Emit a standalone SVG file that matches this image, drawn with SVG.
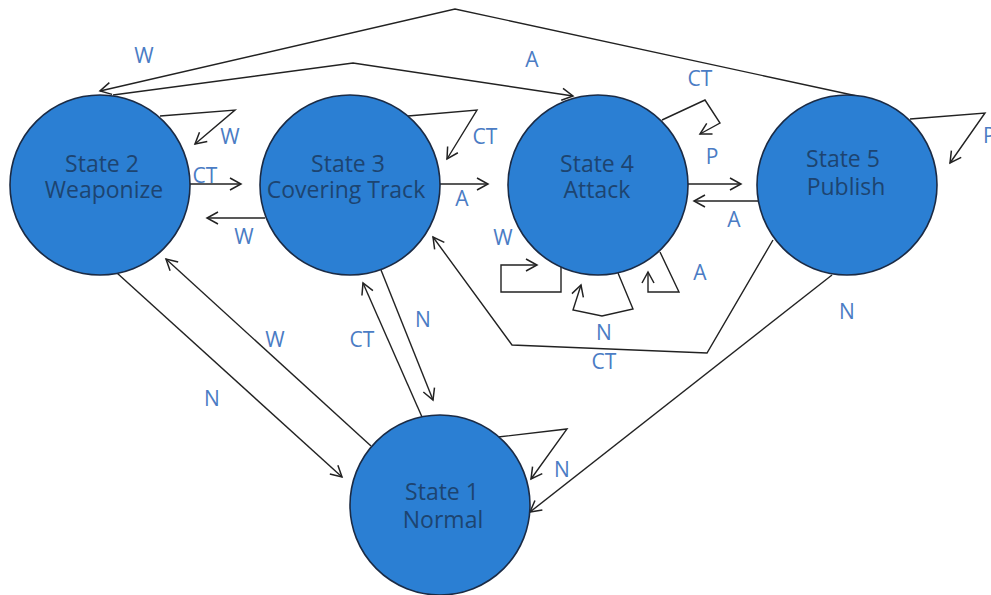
<svg xmlns="http://www.w3.org/2000/svg" width="991" height="595" viewBox="0 0 991 595">
<style>
.node{fill:#2b7fd3;stroke:#1b2b45;stroke-width:1.6}
.nt{font-family:"Open Sans","Liberation Sans",sans-serif;font-size:23px;fill:#1d4470;text-anchor:middle}
.lb{font-family:"Open Sans","Liberation Sans",sans-serif;font-size:21px;fill:#4b7cc4;text-anchor:middle}
.e{fill:none;stroke:#222;stroke-width:1.4;stroke-linejoin:miter}
</style>
<defs>
<marker id="ah" markerUnits="userSpaceOnUse" markerWidth="14" markerHeight="14" refX="11" refY="6" orient="auto" overflow="visible">
<path d="M0,0 L11,6 L0,12" fill="none" stroke="#222" stroke-width="1.5"/>
</marker>
</defs>
<g id="connectors">
<polyline class="e" points="857,96 455,9 100,91" marker-end="url(#ah)"/>
<polyline class="e" points="113,95 353,63 573,96" marker-end="url(#ah)"/>
<polyline class="e" points="160,116 235,110 195,144" marker-end="url(#ah)"/>
<polyline class="e" points="408,116 477,110 447,159" marker-end="url(#ah)"/>
<line class="e" x1="190" y1="184" x2="241" y2="184" marker-end="url(#ah)"/>
<line class="e" x1="265" y1="218" x2="207" y2="218" marker-end="url(#ah)"/>
<line class="e" x1="440" y1="184" x2="488" y2="184" marker-end="url(#ah)"/>
<polyline class="e" points="662,120 705,100 720,123 700,134" marker-end="url(#ah)"/>
<line class="e" x1="688" y1="184" x2="741" y2="184" marker-end="url(#ah)"/>
<line class="e" x1="758" y1="201" x2="694" y2="201" marker-end="url(#ah)"/>
<polyline class="e" points="910,119 985,113 950,163" marker-end="url(#ah)"/>
<polyline class="e" points="561,267 561,292 501,292 501,265 537,265" marker-end="url(#ah)"/>
<polyline class="e" points="618,273 633,309 602,316 573,310 581,285" marker-end="url(#ah)"/>
<polyline class="e" points="660,252 679,292 648,292 648,272" marker-end="url(#ah)"/>
<polyline class="e" points="773,240 707,353 512,345 433,237" marker-end="url(#ah)"/>
<line class="e" x1="832" y1="275" x2="530" y2="512" marker-end="url(#ah)"/>
<polyline class="e" points="498,437 567,429 531,479" marker-end="url(#ah)"/>
<line class="e" x1="117" y1="273" x2="342" y2="477" marker-end="url(#ah)"/>
<line class="e" x1="371" y1="446" x2="166" y2="259" marker-end="url(#ah)"/>
<line class="e" x1="422" y1="417" x2="363" y2="283" marker-end="url(#ah)"/>
<line class="e" x1="381" y1="270" x2="433" y2="400" marker-end="url(#ah)"/>
</g>
<g id="state2">
<circle class="node" cx="100" cy="185" r="90"/>
<text class="nt" x="102" y="172">State 2</text>
<text class="nt" x="104" y="198">Weaponize</text>
</g>
<g id="state3">
<circle class="node" cx="350" cy="185" r="90"/>
<text class="nt" x="348" y="172">State 3</text>
<text class="nt" x="346" y="198">Covering Track</text>
</g>
<g id="state4">
<circle class="node" cx="598" cy="185" r="90"/>
<text class="nt" x="597" y="172">State 4</text>
<text class="nt" x="597" y="198">Attack</text>
</g>
<g id="state5">
<circle class="node" cx="847" cy="185" r="90"/>
<text class="nt" x="843" y="167">State 5</text>
<text class="nt" x="846" y="195">Publish</text>
</g>
<g id="state1">
<circle class="node" cx="440" cy="505" r="90"/>
<text class="nt" x="442" y="500">State 1</text>
<text class="nt" x="443" y="528">Normal</text>
</g>
<g id="labels">
<text class="lb" x="144" y="63">W</text>
<text class="lb" x="532" y="67">A</text>
<text class="lb" x="230" y="144">W</text>
<text class="lb" x="485" y="144">CT</text>
<text class="lb" x="205" y="183">CT</text>
<text class="lb" x="244" y="244">W</text>
<text class="lb" x="462" y="206">A</text>
<text class="lb" x="700" y="86">CT</text>
<text class="lb" x="712" y="164">P</text>
<text class="lb" x="734" y="227">A</text>
<text class="lb" x="983" y="143" style="text-anchor:start">P</text>
<text class="lb" x="503" y="245">W</text>
<text class="lb" x="604" y="340">N</text>
<text class="lb" x="700" y="280">A</text>
<text class="lb" x="604" y="369">CT</text>
<text class="lb" x="847" y="319">N</text>
<text class="lb" x="562" y="477">N</text>
<text class="lb" x="212" y="406">N</text>
<text class="lb" x="275" y="347">W</text>
<text class="lb" x="362" y="347">CT</text>
<text class="lb" x="423" y="327">N</text>
</g>
</svg>
